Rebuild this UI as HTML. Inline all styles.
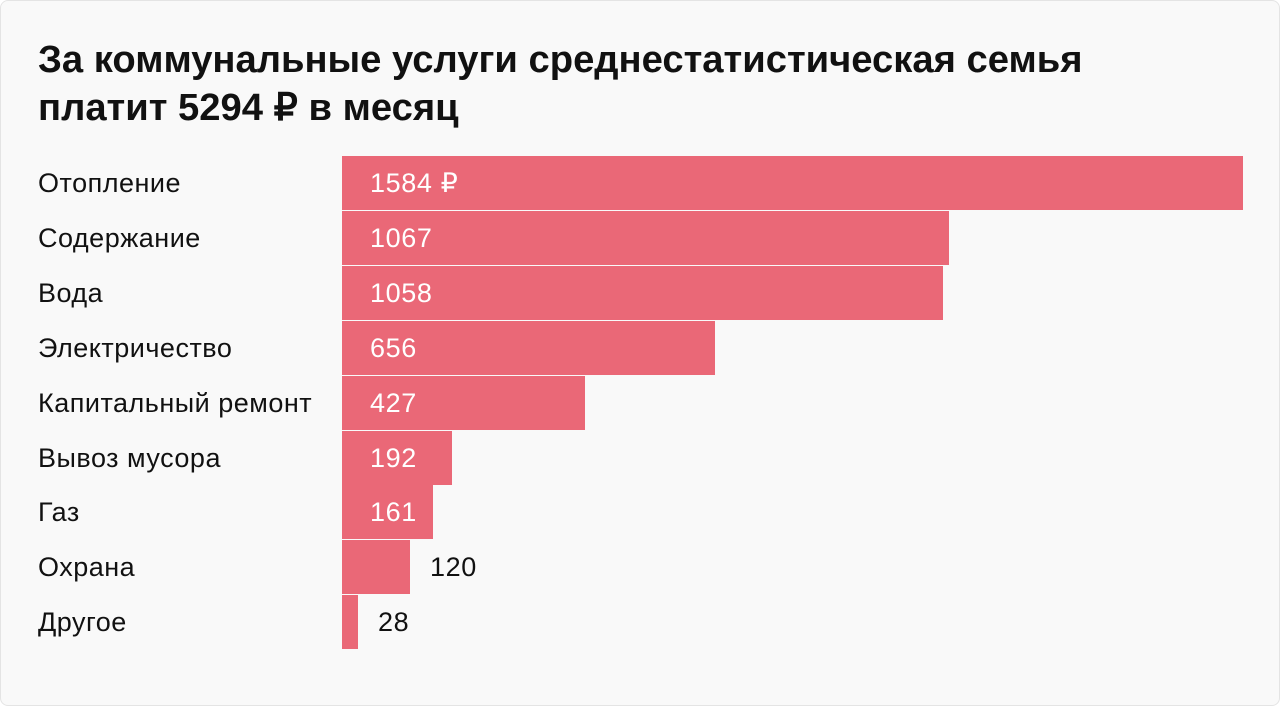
<!DOCTYPE html><html><head><meta charset="utf-8"><style>
body{margin:0;width:1280px;height:706px;background:#fff;font-family:"Liberation Sans",sans-serif;overflow:hidden}
.card{position:absolute;left:0;top:0;width:1278px;height:704px;border:1px solid #e4e4e4;border-radius:8px;background:#f9f9f9}
h1{position:absolute;left:38px;top:36px;margin:0;font-size:38.2px;line-height:48px;font-weight:bold;color:#111;letter-spacing:0}
.cat{position:absolute;left:38px;font-size:27px;letter-spacing:0.5px;color:#111;height:55px;line-height:55px}
.bar{position:absolute;left:342px;height:54px;background:#ea6877}
.v{position:absolute;font-size:27px;letter-spacing:0.6px;height:55px;line-height:55px}
</style></head><body><div class="card"></div>
<h1>За коммунальные услуги среднестатистическая семья<br>платит 5294 ₽ в месяц</h1>
<div id="c"></div>
<script>
var d=[["Отопление",1243,"1584 ₽"],["Содержание",949,"1067"],["Вода",943,"1058"],["Электричество",715,"656"],["Капитальный ремонт",585,"427"],["Вывоз мусора",452,"192"],["Газ",433,"161"],["Охрана",410,"120"],["Другое",358,"28"]];
var h="";d.forEach(function(r,i){var t=156+i*54.9;
h+='<div class="cat" style="top:'+t+'px">'+r[0]+'</div><div class="bar" style="top:'+t+'px;width:'+(r[1]-342)+'px"></div>';
var inside=i<7;h+='<div class="v" style="top:'+t+'px;left:'+(inside?370:r[1]+20)+'px;color:'+(inside?'#fff':'#111')+'">'+r[2]+'</div>';});
document.getElementById("c").innerHTML=h;
</script></body></html>
